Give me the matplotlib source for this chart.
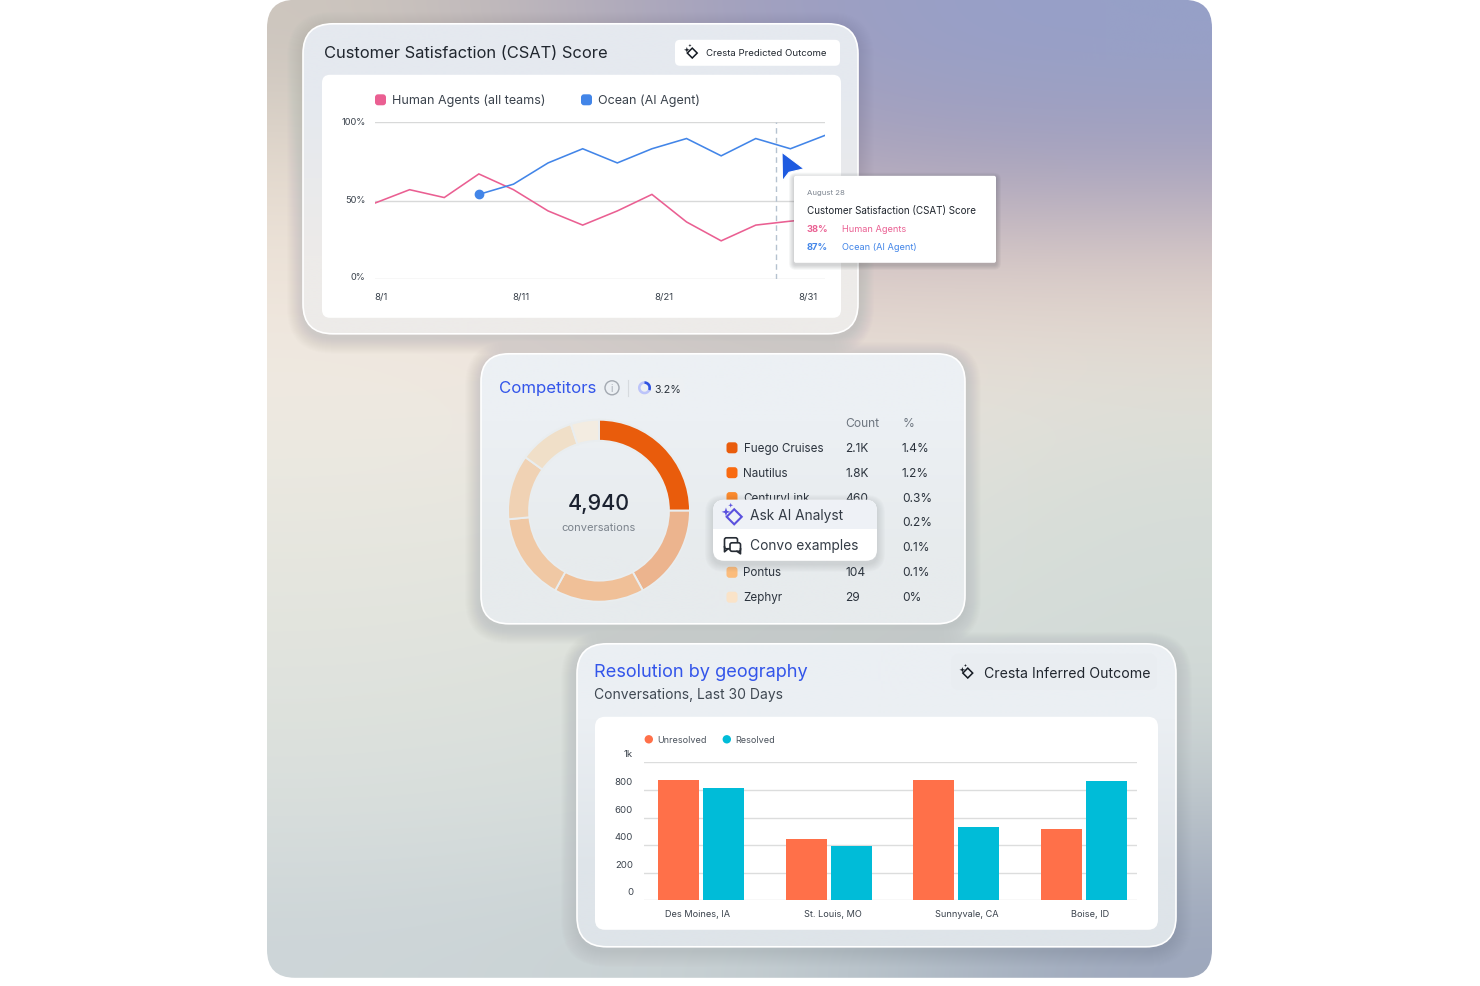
import numpy as np
import matplotlib
matplotlib.use("Agg")
import matplotlib.pyplot as plt
from matplotlib.patches import FancyBboxPatch, Polygon, Circle, Wedge

plt.rcParams["font.family"] = ["Inter", "DejaVu Sans"]

W, H = 1480, 987

# CSAT line chart
csat_human = [48.5, 57, 52, 67, 57, 43.5, 34.5, 43.5, 54, 36.5, 24.5, 34.5, 37, 39]
csat_ocean = [None, None, None, 54, 60.5, 74, 83, 74, 83, 89.5, 78.5, 89.5, 83, 91.5]
csat_xticks = ["8/1", "8/11", "8/21", "8/31"]
csat_yticks = [0, 50, 100]

# competitor donut and its table
donut_shares = [25, 17, 16, 15.5, 11.5, 10, 5]
donut_colors = ["#e95c0c", "#ecb48e", "#f0c098", "#f0c8a4", "#f0d2b4", "#f0dfc8", "#f3ece1"]
comp_names = ["Fuego Cruises", "Nautilus", "CenturyLink", "", "", "Pontus", "Zephyr"]
comp_counts = ["2.1K", "1.8K", "460", "", "", "104", "29"]
comp_pcts = ["1.4%", "1.2%", "0.3%", "0.2%", "0.1%", "0.1%", "0%"]
comp_swatches = ["#e95c0c", "#f96a10", "#fb8a2c", "#fb9a48", "#fbaa60", "#fbbc7c", "#fae3c8"]

# resolution bars
cities = ["Des Moines, IA", "St. Louis, MO", "Sunnyvale, CA", "Boise, ID"]
unresolved = [870, 444, 870, 514]
resolved = [814, 396, 529, 867]
geo_yticks = [0, 200, 400, 600, 800, 1000]
geo_ylabels = ["0", "200", "400", "600", "800", "1k"]

BLUE_TITLE = "#3355ea"
DARK = "#1c2430"
GREY = "#5d6670"
PINK = "#ea5f92"
OCEAN = "#4285e8"
ORANGE = "#ff7049"
TEAL = "#00bcd8"

# backdrop colours, coarse grid stretched over the rounded panel
backdrop = np.array([
    [[205, 198, 190], [185, 178, 185], [160, 158, 190], [152, 160, 200], [150, 160, 200]],
    [[228, 218, 206], [210, 198, 196], [178, 168, 188], [168, 160, 185], [165, 160, 188]],
    [[238, 228, 218], [236, 224, 214], [222, 206, 200], [222, 205, 198], [222, 205, 198]],
    [[240, 234, 226], [240, 232, 224], [236, 226, 218], [232, 226, 218], [226, 224, 216]],
    [[233, 232, 224], [232, 231, 224], [228, 228, 222], [222, 224, 218], [215, 221, 216]],
    [[228, 229, 222], [226, 228, 222], [220, 225, 220], [216, 222, 218], [212, 220, 216]],
    [[222, 226, 221], [220, 225, 220], [216, 223, 220], [212, 220, 218], [208, 216, 214]],
    [[216, 222, 220], [214, 221, 220], [212, 220, 218], [202, 212, 212], [184, 193, 200]],
    [[205, 213, 216], [203, 212, 214], [198, 207, 210], [176, 187, 197], [156, 166, 188]],
], dtype=float) / 255


def px_axes(x0, y0, x1, y1, zorder):
    y0, y1 = y0 + 0.7, y1 + 0.7
    ax = fig.add_axes([x0 / W, 1 - y1 / H, (x1 - x0) / W, (y1 - y0) / H], zorder=zorder)
    ax.patch.set_alpha(0)
    return ax


def rbox(ax, x0, y0, x1, y1, r, **kw):
    box = FancyBboxPatch((x0, y0), x1 - x0, y1 - y0,
                         boxstyle=f"round,pad=0,rounding_size={r}", **kw)
    ax.add_patch(box)
    return box


def shadow(ax, x0, y0, x1, y1, r, spread, dy, alpha, z):
    for i in range(spread, 0, -1):
        rbox(ax, x0 - i, y0 - i + dy, x1 + i, y1 + i + dy, r + i,
             facecolor="#4a4f52", edgecolor="none", alpha=alpha / spread, zorder=z)


def card(ax, x0, y0, x1, y1, r, top, bottom, z=2):
    shadow(ax, x0, y0, x1, y1, r, 16, 4, 0.12, z)
    shade = np.array([[top], [bottom]], dtype=float) / 255
    im = ax.imshow(shade, extent=(x0, x1, y1, y0), aspect="auto",
                   interpolation="bilinear", zorder=z + 0.1)
    im.set_clip_path(rbox(ax, x0, y0, x1, y1, r, facecolor="none", edgecolor="none"))
    rbox(ax, x0, y0, x1, y1, r, facecolor="none", edgecolor="white", lw=1.2, zorder=z + 0.2)


def panel(ax, x0, y0, x1, y1, r, color="white", z=3):
    rbox(ax, x0, y0, x1, y1, r, facecolor=color, edgecolor="none", zorder=z)


def star(ax, x, y, r, color, z):
    pts = []
    for i in range(8):
        a = i * np.pi / 4
        rad = r if i % 2 == 0 else r * 0.35
        pts.append((x + rad * np.cos(a), y + rad * np.sin(a)))
    ax.add_patch(Polygon(pts, closed=True, facecolor=color, edgecolor="none", zorder=z))


def sparkle(ax, x, y, s, color, z=5, lw=1.1):
    # diamond outline with two small stars above it
    d = (x + 2.4 * s, y + 2.4 * s)
    size = 4.3 * s
    ax.add_patch(Polygon([(d[0] - size, d[1]), (d[0], d[1] - size), (d[0] + size, d[1]), (d[0], d[1] + size)],
                         closed=True, facecolor="none", edgecolor=color, lw=lw, zorder=z))
    star(ax, x - 2.3 * s, y - 0.4 * s, 2.5 * s, color, z)
    star(ax, x + 0.4 * s, y - 4.2 * s, 1.4 * s, color, z)


def txt(ax, x, y, s, size, color=DARK, ha="left", z=6, **kw):
    return ax.text(x, y, s, fontsize=size, color=color, ha=ha, va="center", zorder=z, **kw)


fig = plt.figure(figsize=(W / 100, H / 100), dpi=100, facecolor="white")

base = fig.add_axes([0, 0, 1, 1], zorder=0)
overlay = fig.add_axes([0, 0, 1, 1], zorder=4)
overlay.patch.set_alpha(0)

bg = base.imshow(backdrop, extent=(267, 1212, 978, 0), aspect="auto",
                 interpolation="bicubic", zorder=1)
bg.set_clip_path(rbox(base, 267, 0, 1212, 978, 28, facecolor="none", edgecolor="none"))

card(base, 303, 24, 858, 334, 30, (229, 233, 239), (237, 235, 233))
card(base, 481, 354, 965, 624, 28, (236, 240, 244), (231, 235, 237))
card(base, 577, 644, 1176, 947, 30, (235, 239, 243), (222, 228, 233))

# CSAT card
txt(base, 323.5, 53, "Customer Satisfaction (CSAT) Score", 11.9, "#20262e")
panel(base, 675, 40, 840, 66, 5)
sparkle(base, 689.5, 50.5, 1.15, "#141a22")
txt(base, 705.8, 53, "Cresta Predicted Outcome", 6.9, "#20262e")
panel(base, 322, 75, 841, 318, 8)
rbox(base, 375, 94.5, 386, 105.5, 3, facecolor=PINK, edgecolor="none", zorder=5)
txt(base, 391.5, 100, "Human Agents (all teams)", 9.0, "#3a424c")
rbox(base, 581, 94.5, 592, 105.5, 3, facecolor=OCEAN, edgecolor="none", zorder=5)
txt(base, 598, 100, "Ocean (AI Agent)", 9.0, "#3a424c")

ax1 = px_axes(375, 122.3, 825, 279.7, 2)
xs = np.arange(len(csat_human))
ax1.plot(xs, csat_human, color=PINK, lw=1.15, solid_joinstyle="miter", zorder=3)
ocean_x = [i for i, v in enumerate(csat_ocean) if v is not None]
ocean_y = [v for v in csat_ocean if v is not None]
ax1.plot(ocean_x, ocean_y, color=OCEAN, lw=1.15, solid_joinstyle="miter", zorder=4)
ax1.plot(ocean_x[0], ocean_y[0], "o", color=OCEAN, ms=6, zorder=5)
ax1.axvline(11.58, color="#b5c2d0", lw=1, ls=(0, (4, 3)), zorder=2)
ax1.set_xlim(0, 13)
ax1.set_ylim(0, 100)
ax1.set_yticks(csat_yticks)
ax1.set_yticklabels([])
ax1.set_xticks([0.17, 4.22, 8.35, 12.5])
ax1.set_xticklabels(csat_xticks, fontsize=6.9, color="#3a424c")
ax1.tick_params(length=0, axis="y")
ax1.tick_params(length=0, axis="x", pad=9)
ax1.grid(axis="y", color="#d8d9d9", lw=1)
ax1.set_axisbelow(True)
for sp in ax1.spines.values():
    sp.set_visible(False)
for val, lift in zip(csat_yticks, [2.5, 1, 0.5]):
    ax1.annotate(f"{val}%", (0, val), xycoords=("axes fraction", "data"), xytext=(-9.5, lift),
                 textcoords="offset pixels", ha="right", va="center",
                 fontsize=6.7, color="#3a424c")

# tooltip and pointer float above the chart
shadow(overlay, 794, 176, 996, 263, 2, 5, 2, 0.25, 2)
panel(overlay, 794, 176, 996, 263, 2)
txt(overlay, 807, 192, "August 28", 5.6, "#7d8590")
txt(overlay, 807, 210.5, "Customer Satisfaction (CSAT) Score", 7.1, "#20262e")
txt(overlay, 807, 228.5, "38%", 6.8, PINK, fontweight="bold")
txt(overlay, 842, 228.5, "Human Agents", 6.6, PINK)
txt(overlay, 807, 246.5, "87%", 6.8, OCEAN, fontweight="bold")
txt(overlay, 842, 246.5, "Ocean (AI Agent)", 6.6, OCEAN)
overlay.add_patch(Polygon([(782, 152.5), (804, 169), (789, 172.5), (782.5, 181)], closed=True,
                          facecolor="#1f5be0", edgecolor="white", lw=0.8, joinstyle="round", zorder=7))

# Competitors card
txt(base, 498.5, 388, "Competitors", 12.1, BLUE_TITLE)
base.add_patch(Circle((612, 388), 7, facecolor="none", edgecolor="#a3a9b1", lw=1, zorder=5))
txt(base, 612, 388, "i", 7, "#a3a9b1", ha="center")
base.plot([627.5, 627.5], [380, 396], color="#d6dade", lw=0.8, zorder=5)
panel(base, 636, 378, 684, 398, 5, color="#edf0f3", z=4)
base.add_patch(Wedge((644.5, 388), 6.5, 0, 360, width=2.6, facecolor="#bcc4fa", edgecolor="none", zorder=5))
base.add_patch(Wedge((644.5, 388), 6.5, -90, 25, width=2.6, facecolor="#2f52e0", edgecolor="none", zorder=5))
txt(base, 654.5, 389, "3.2%", 7.7, "#2a323c")

ax2 = px_axes(508, 420, 690, 602, 2)
ax2.pie(donut_shares, colors=donut_colors, startangle=90, counterclock=False, radius=1,
        wedgeprops=dict(width=0.232, edgecolor="#e9edef", linewidth=1.4))
ax2.set_xlim(-1, 1)
ax2.set_ylim(-1, 1)
for w in ax2.patches:
    w.set_clip_on(False)

txt(base, 599, 503, "4,940", 15.5, "#1b2230", ha="center", fontweight="medium")
txt(base, 599, 527.5, "conversations", 8, "#7b838c", ha="center")

txt(base, 845.5, 423, "Count", 8.7, "#6e7680")
txt(base, 902.5, 423, "%", 8.7, "#6e7680")
row_y = 448
for name, count, pct, color in zip(comp_names, comp_counts, comp_pcts, comp_swatches):
    rbox(base, 726.5, row_y - 5.5, 737.5, row_y + 5.5, 3, facecolor=color, edgecolor="none", zorder=5)
    txt(base, 743.5, row_y, name, 8.4, "#2c343e")
    txt(base, 845.5, row_y, count, 8.6, "#2c343e")
    txt(base, 902, row_y, pct, 8.6, "#2c343e")
    row_y += 24.9

# context menu sits over the table rows
shadow(base, 713, 500, 877, 561, 11, 8, 3, 0.16, 7)
rbox(base, 713, 500, 877, 561, 11, facecolor="white", edgecolor="none", zorder=7.5)
top_row = base.imshow(np.array([[(238, 241, 246)]], dtype=np.uint8), extent=(713, 877, 529.5, 499),
                      aspect="auto", zorder=7.6)
top_row.set_clip_path(rbox(base, 713, 500, 877, 561, 11, facecolor="none", edgecolor="none"))
sparkle(base, 730, 512.8, 1.75, "#5a50de", z=8, lw=1.5)
txt(base, 750.5, 515, "Ask AI Analyst", 9.9, "#343c46", z=8)
rbox(base, 724.5, 538, 737.5, 549, 2, facecolor="white", edgecolor="#262c34", lw=1.2, zorder=8)
rbox(base, 730, 543, 740.5, 551.5, 2, facecolor="white", edgecolor="#262c34", lw=1.2, zorder=8.1)
base.plot([724.5, 724.5, 728], [547, 552, 549], color="#262c34", lw=1.2, zorder=8.2)
base.plot([740.5, 740.5, 737], [549, 554, 551.5], color="#262c34", lw=1.2, zorder=8.2)
txt(base, 750.5, 545, "Convo examples", 9.9, "#343c46", z=8)

# Resolution card
txt(base, 594.5, 672, "Resolution by geography", 13.1, BLUE_TITLE)
txt(base, 594.5, 694, "Conversations, Last 30 Days", 10.0, "#3f4852")
panel(base, 951, 654, 1157, 690, 8, color="#e9edf1")
sparkle(base, 965, 670.5, 1.15, "#141a22")
txt(base, 984, 673.5, "Cresta Inferred Outcome", 10.15, "#20262e")
panel(base, 595, 717, 1158, 930, 10)
base.add_patch(Circle((648.8, 739.5), 4.2, facecolor=ORANGE, edgecolor="none", zorder=5))
txt(base, 657.5, 740, "Unresolved", 6.5, "#4a525c")
base.add_patch(Circle((726.8, 739.5), 4.2, facecolor=TEAL, edgecolor="none", zorder=5))
txt(base, 735.5, 740, "Resolved", 6.5, "#4a525c")

ax3 = px_axes(644, 762.7, 1137, 900.7, 2)
pos = np.arange(len(cities))
ax3.bar(pos - 0.177, unresolved, width=0.32, color=ORANGE, zorder=3)
ax3.bar(pos + 0.177, resolved, width=0.32, color=TEAL, zorder=3)
ax3.set_xlim(-0.4475, 3.416)
ax3.set_ylim(0, 1000)
ax3.set_yticks(geo_yticks)
ax3.set_yticklabels([])
ax3.set_xticks([-0.03, 1.03, 2.08, 3.05])
ax3.set_xticklabels(cities, fontsize=6.6, color="#3a424c")
ax3.tick_params(length=0, axis="y")
ax3.tick_params(length=0, axis="x", pad=6)
ax3.grid(axis="y", color="#dcdddd", lw=1)
ax3.set_axisbelow(True)
for sp in ax3.spines.values():
    sp.set_visible(False)
# y labels ride just above their gridlines
for val, lab in zip(geo_yticks, geo_ylabels):
    ax3.annotate(lab, (0, val), xycoords=("axes fraction", "data"), xytext=(-11, 8.5),
                 textcoords="offset pixels", ha="right", va="center",
                 fontsize=6.9, color="#3a424c")

for ax in (base, overlay):
    ax.set_xlim(0, W)
    ax.set_ylim(H - 0.8, -0.8)
    ax.axis("off")

fig.savefig("out.png", dpi=100)
